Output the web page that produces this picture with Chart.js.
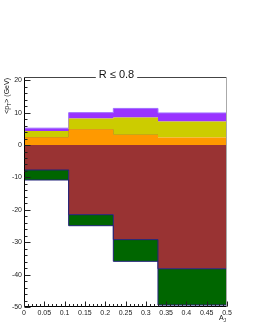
<!DOCTYPE html>
<html>
<head>
<meta charset="utf-8">
<script src="https://cdn.jsdelivr.net/npm/chart.js@4/dist/chart.umd.min.js"></script>
<style>
  body { margin: 0; background: #fff; }
  canvas { display: block; }
</style>
</head>
<body>
<canvas id="c" width="258" height="333"></canvas>
<script>
// bin edges in A_J and the stacked levels (GeV)
const binEdges = [0, 0.11, 0.22, 0.33, 0.5];
const orangeTop = [2.4, 4.9, 3.2, 2.3];
const yellowTop = [4.3, 8.2, 8.5, 7.3];
const purpleTop = [5.2, 10.0, 11.3, 9.9];
const lineLevel = [2.4, 4.9, 3.3, 2.8];
const brownBottom = [-7.7, -21.5, -29.2, -38.2];
const greenBottom = [-10.8, -24.9, -35.9, -49.4];

const yTicks = [-50, -40, -30, -20, -10, 0, 10, 20];
const xTicks = [0, 0.05, 0.1, 0.15, 0.2, 0.25, 0.3, 0.35, 0.4, 0.45, 0.5];

const titleText = 'R \u2264 0.8';
const FONT = '"Liberation Sans", Arial, sans-serif';

// step points: one per bin edge, last bin value carried to the right edge
function steps(vals) {
  return binEdges.map((x, i) => ({ x: x, y: vals[Math.min(i, vals.length - 1)] }));
}

function histo(vals, fillColor, fill, border) {
  return {
    data: steps(vals),
    stepped: 'before',
    fill: fill,
    backgroundColor: fillColor,
    borderColor: border || 'rgba(0,0,0,0)',
    borderWidth: 1,
    pointRadius: 0
  };
}

// ticks inside the frame, frame lines, titles
const rootFrame = {
  id: 'rootFrame',
  afterDatasetsDraw(chart) {
    const ctx = chart.ctx;
    const a = chart.chartArea;
    const xs = chart.scales.x, ys = chart.scales.y;
    const L = Math.round(a.left) + 0.5, R = Math.round(a.right) - 0.5;
    const T = Math.round(a.top) + 0.5, B = Math.round(a.bottom) - 0.5;
    ctx.save();
    ctx.lineWidth = 1;

    // frame
    ctx.strokeStyle = '#444';
    ctx.beginPath(); ctx.moveTo(L, T); ctx.lineTo(R, T); ctx.stroke();
    ctx.strokeStyle = '#aaa';
    ctx.beginPath(); ctx.moveTo(R, T); ctx.lineTo(R, B); ctx.stroke();
    ctx.strokeStyle = '#000';
    ctx.beginPath(); ctx.moveTo(L, T); ctx.lineTo(L, B); ctx.lineTo(R, B); ctx.stroke();

    // y ticks
    ctx.strokeStyle = '#222';
    ctx.beginPath();
    for (let v = -50; v <= 20; v += 2) {
      const py = Math.round(ys.getPixelForValue(v)) + 0.5;
      const len = (v % 10 === 0) ? 6 : 3;
      ctx.moveTo(L, py); ctx.lineTo(L + len, py);
    }
    // x ticks
    for (let k = 0; k <= 50; k++) {
      const px = Math.round(xs.getPixelForValue(k / 100)) + 0.5;
      const len = (k % 5 === 0) ? 5 : 2.5;
      ctx.moveTo(px, B); ctx.lineTo(px, B - len);
    }
    ctx.stroke();

    // title sitting on the top frame line
    ctx.font = '11px ' + FONT;
    const tw = ctx.measureText(titleText).width;
    const cx = 116.5;
    ctx.fillStyle = '#fff';
    ctx.fillRect(cx - tw / 2 - 3, T - 9, tw + 6, 12);
    ctx.fillStyle = '#111';
    ctx.textBaseline = 'alphabetic';
    ctx.textAlign = 'center';
    ctx.fillText(titleText, cx, T + 0.5);

    // y axis title <p_T> (GeV), rotated, aligned to the top of the axis
    ctx.save();
    ctx.translate(9, a.top + 1);
    ctx.rotate(-Math.PI / 2);
    ctx.textAlign = 'left';
    const parts = [['<p', 7, 0], ['T', 5, 2], ['> (GeV)', 7, 0]];
    let w = 0;
    parts.forEach(p => { ctx.font = p[1] + 'px ' + FONT; w += ctx.measureText(p[0]).width; });
    let x0 = -w;
    parts.forEach(p => {
      ctx.font = p[1] + 'px ' + FONT;
      ctx.fillText(p[0], x0, p[2]);
      x0 += ctx.measureText(p[0]).width;
    });
    ctx.restore();

    // x axis title A_J
    ctx.textAlign = 'left';
    ctx.font = '7px ' + FONT;
    ctx.fillText('A', a.right - 8, 320);
    ctx.font = '5px ' + FONT;
    ctx.fillText('J', a.right - 3.5, 322);
    ctx.restore();
  }
};

new Chart(document.getElementById('c'), {
  type: 'line',
  data: {
    datasets: [
      histo(orangeTop, '#ff9900', 'origin'),
      histo(yellowTop, '#cccc00', '-1'),
      histo(purpleTop, '#9933ff', '-1', '#a070ff'),
      histo(lineLevel, 'rgba(0,0,0,0)', false, '#444444'),
      histo(brownBottom, '#993333', 'origin', '#22227a'),
      histo(greenBottom, '#006600', '-1', '#22227a')
    ]
  },
  options: {
    responsive: false,
    animation: false,
    layout: { padding: { top: 77, right: 31, left: 0, bottom: 0 } },
    plugins: { legend: { display: false }, tooltip: { enabled: false } },
    scales: {
      x: {
        type: 'linear', min: 0, max: 0.5,
        grid: { display: false, drawTicks: false },
        border: { display: false },
        afterBuildTicks: s => { s.ticks = xTicks.map(v => ({ value: v })); },
        afterFit: s => { s.height = 26; },
        ticks: {
          autoSkip: false, maxRotation: 0, padding: 2,
          color: '#222', font: { family: FONT, size: 7 },
          callback: v => String(+v.toFixed(2))
        }
      },
      y: {
        type: 'linear', min: -50, max: 21,
        grid: { display: false, drawTicks: false },
        border: { display: false },
        afterBuildTicks: s => { s.ticks = yTicks.map(v => ({ value: v })); },
        afterFit: s => { s.width = 24; },
        ticks: {
          autoSkip: false, padding: 2,
          color: '#222', font: { family: FONT, size: 7 }
        }
      }
    }
  },
  plugins: [rootFrame]
});
</script>
</body>
</html>
